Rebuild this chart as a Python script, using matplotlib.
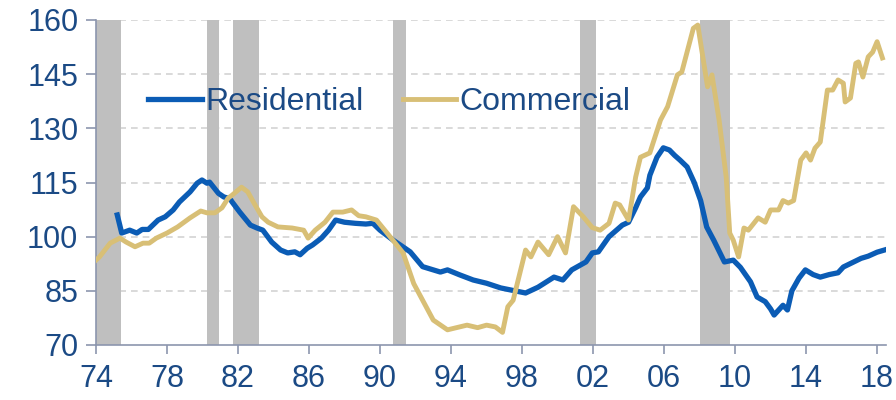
import numpy as np
import matplotlib
matplotlib.use('Agg')
import matplotlib.pyplot as plt

# data (index values)
res_years = [1975.2, 1975.45, 1975.9, 1976.3, 1976.6, 1976.95, 1977.5, 1977.9, 1978.35, 1978.7,
             1979.3, 1979.7, 1979.97, 1980.25, 1980.4, 1980.9, 1981.2, 1981.55, 1981.67, 1982.1,
             1982.7, 1983.07, 1983.4, 1983.9, 1984.4, 1984.8, 1985.2, 1985.5, 1985.9, 1986.2,
             1986.7, 1987.1, 1987.5, 1988.0, 1988.6, 1989.2, 1989.6, 1990.0, 1990.75, 1991.7,
             1992.4, 1993.4, 1993.8, 1994.5, 1995.25, 1996.0, 1996.8, 1997.4, 1998.2, 1998.9,
             1999.8, 2000.3, 2000.8, 2001.6, 2001.96, 2002.3, 2002.9, 2003.65, 2004.0, 2004.4,
             2004.67, 2005.06, 2005.2, 2005.6, 2005.96, 2006.3, 2006.6, 2006.9, 2007.3, 2007.7,
             2008.06, 2008.4, 2008.8, 2009.4, 2009.9, 2010.3, 2010.87, 2011.24, 2011.7, 2012.0,
             2012.2, 2012.7, 2012.95, 2013.2, 2013.6, 2013.96, 2014.4, 2014.8, 2015.3, 2015.8,
             2016.1, 2016.6, 2017.1, 2017.5, 2018.0, 2018.55]
residential = [106, 101, 101.8, 101, 102, 102, 104.6, 105.5, 107.4, 109.6,
               112.4, 114.8, 115.7, 114.8, 115.1, 112, 111, 110.5, 109.6, 106.8,
               103.2, 102.4, 101.8, 98.5, 96.3, 95.5, 95.8, 95, 96.8, 97.7,
               99.6, 101.8, 104.6, 104, 103.7, 103.5, 103.7, 101.8, 99, 95.8,
               91.7, 90.2, 90.8, 89.4, 88, 87.1, 85.8, 85.2, 84.4, 86,
               88.8, 88, 90.8, 93, 95.5, 95.8, 100, 103.2, 104, 108,
               111, 113.5, 117, 122, 124.6, 124, 122.5, 121.2, 119.3, 115,
               110, 102.7, 99, 93, 93.5, 91.5, 87.5, 83.3, 82, 80,
               78.3, 81, 79.7, 85, 88.5, 90.8, 89.5, 88.8, 89.5, 90,
               91.6, 92.8, 94, 94.6, 95.7, 96.5]

com_years = [1974.0, 1974.2, 1974.8, 1975.35, 1975.7, 1976.2, 1976.65, 1977.0, 1977.4, 1978.0,
             1978.6, 1979.3, 1979.9, 1980.25, 1980.7, 1981.1, 1981.45, 1981.67, 1982.2, 1982.55,
             1982.96, 1983.35, 1983.7, 1984.25, 1985.05, 1985.7, 1985.95, 1986.35, 1986.9, 1987.35,
             1987.9, 1988.4, 1988.8, 1989.2, 1989.8, 1990.4, 1991.3, 1991.9, 1993.0, 1993.8,
             1994.9, 1995.5, 1996.0, 1996.5, 1996.9, 1997.2, 1997.5, 1998.2, 1998.5, 1998.9,
             1999.5, 2000.0, 2000.45, 2000.9, 2001.45, 2001.96, 2002.4, 2002.9, 2003.25, 2003.5,
             2004.0, 2004.4, 2004.67, 2005.2, 2005.8, 2006.2, 2006.75, 2007.0, 2007.65, 2007.9,
             2008.45, 2008.7, 2009.1, 2009.5, 2009.7, 2009.9, 2010.2, 2010.5, 2010.75, 2011.3,
             2011.7, 2012.0, 2012.45, 2012.7, 2013.0, 2013.3, 2013.7, 2014.0, 2014.25, 2014.5,
             2014.8, 2015.2, 2015.5, 2015.8, 2016.1, 2016.2, 2016.5, 2016.8, 2016.95, 2017.2,
             2017.5, 2017.75, 2018.0, 2018.3]
commercial = [93.5, 94.4, 98.2, 99.6, 98.5, 97.2, 98.2, 98.2, 99.6, 101,
              102.7, 105.2, 107.1, 106.6, 106.6, 108, 110.7, 111.5, 113.7, 112.4,
              108.8, 105.5, 104, 102.7, 102.4, 101.8, 99.6, 101.8, 104, 106.8,
              106.8, 107.4, 105.8, 105.5, 104.6, 101, 95.5, 87, 76.9, 74.2,
              75.5, 74.8, 75.5, 75, 73.5, 80.6, 82.4, 96.3, 94.4, 98.5,
              95, 100, 95.5, 108.3, 105.5, 102.5, 101.8, 103.7, 109.3, 108.8,
              104.6, 116.5, 122, 123.2, 132.3, 136, 144.8, 145.6, 157.7, 158.6,
              141.5, 144.8, 132.3, 116.5, 101, 99, 94.4, 102.4, 101.8, 105.2,
              104, 107.4, 107.4, 110, 109.3, 110, 121.2, 123.2, 121.2, 124.5,
              126.2, 140.6, 140.6, 143.4, 142.5, 137.3, 138.4, 148, 148.4, 144.2,
              149.8, 151.1, 154, 149.5]

# recession periods (start, end)
recessions = [(1974.0, 1975.4), (1980.25, 1980.93), (1981.7, 1983.2),
              (1990.72, 1991.46), (2001.25, 2002.19), (2008.0, 2009.7)]

tick_years = [1974, 1978, 1982, 1986, 1990, 1994, 1998, 2002, 2006, 2010, 2014, 2018]
tick_labels = ['74', '78', '82', '86', '90', '94', '98', '02', '06', '10', '14', '18']

navy = '#1b4a85'
axis_col = '#8c96ae'

plt.rcParams['font.family'] = ['Liberation Sans', 'DejaVu Sans']

fig = plt.figure(figsize=(8.96, 4.0), dpi=100)
ax = fig.add_axes([0.1071, 0.1375, 0.8817, 0.8125])

for a, b in recessions:
    ax.axvspan(a, b, color='#bfbfbf', lw=0, zorder=1)

ax.plot(res_years, residential, color='#0b5cb5', lw=3.8, label='Residential',
        solid_joinstyle='round', zorder=3)
ax.plot(com_years, commercial, color='#d8bf76', lw=3.5, label='Commercial',
        solid_joinstyle='round', zorder=4)

ax.set_xlim(1974, 2018.5)
ax.set_ylim(70, 160)
ax.set_yticks(np.arange(70, 161, 15))
ax.set_xticks(tick_years)
ax.set_xticklabels(tick_labels)

for y in np.arange(85, 161, 15):
    ax.axhline(y, color='#d3d3d3', lw=1.2, ls=(0, (4, 3)), zorder=0)

for s in ['top', 'right']:
    ax.spines[s].set_visible(False)
for s in ['left', 'bottom']:
    ax.spines[s].set_color(axis_col)
    ax.spines[s].set_linewidth(1.2)

ax.tick_params(axis='both', colors=axis_col, labelcolor=navy, labelsize=22,
               width=1.2, direction='out')
ax.tick_params(axis='x', length=6.5, pad=7)
ax.tick_params(axis='y', length=7.2, pad=5.5)

leg = ax.legend(loc='center left', bbox_to_anchor=(0.066, 0.748), ncol=2,
                frameon=False, fontsize=23, handlelength=1.69, handletextpad=0.1,
                columnspacing=1.22, borderpad=0, borderaxespad=0)
for t in leg.get_texts():
    t.set_color(navy)

fig.savefig('out.png', dpi=100)
